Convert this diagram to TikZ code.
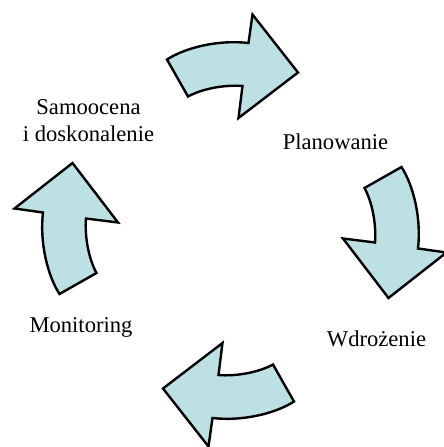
\documentclass[tikz,border=0pt]{standalone}
\usepackage{fontspec}
\setmainfont{Liberation Serif}
\usepackage{tikz}
\definecolor{arrowfill}{RGB}{188,224,228}

\begin{document}
\begin{tikzpicture}[x=0.5pt,y=0.5pt,
  cyclearrow/.style={fill=arrowfill,draw=black,line width=1.2pt},
  steplabel/.style={inner sep=0pt,anchor=base,font=\fontsize{11.3}{13.25}\selectfont}]
 \useasboundingbox (-230.5,-216.5) rectangle (213.5,230.5);
 % four copies of one bent arrow, turned about the middle
 \foreach \ang in {0,-90,-180,-270}
  \draw[cyclearrow,rotate=\ang] (-63.5,171) .. controls (-45,183) and (-12,191) .. (18,187.5)
   -- (22,216) -- (67.5,158) -- (8,112.5) -- (12,144.5)
   .. controls (-5,146) and (-28,142) .. (-42.5,134) -- cycle;
 \node[steplabel,anchor=center,align=center] (samo) at (-142,109.9) {Samoocena\\i doskonalenie};
 \node[steplabel] (plan) at (105,81.2) {Planowanie};
 \node[steplabel] (wdro) at (146,-115.5) {Wdrożenie};
 \node[steplabel] (moni) at (-149.5,-101.5) {Monitoring};
\end{tikzpicture}
\end{document}
